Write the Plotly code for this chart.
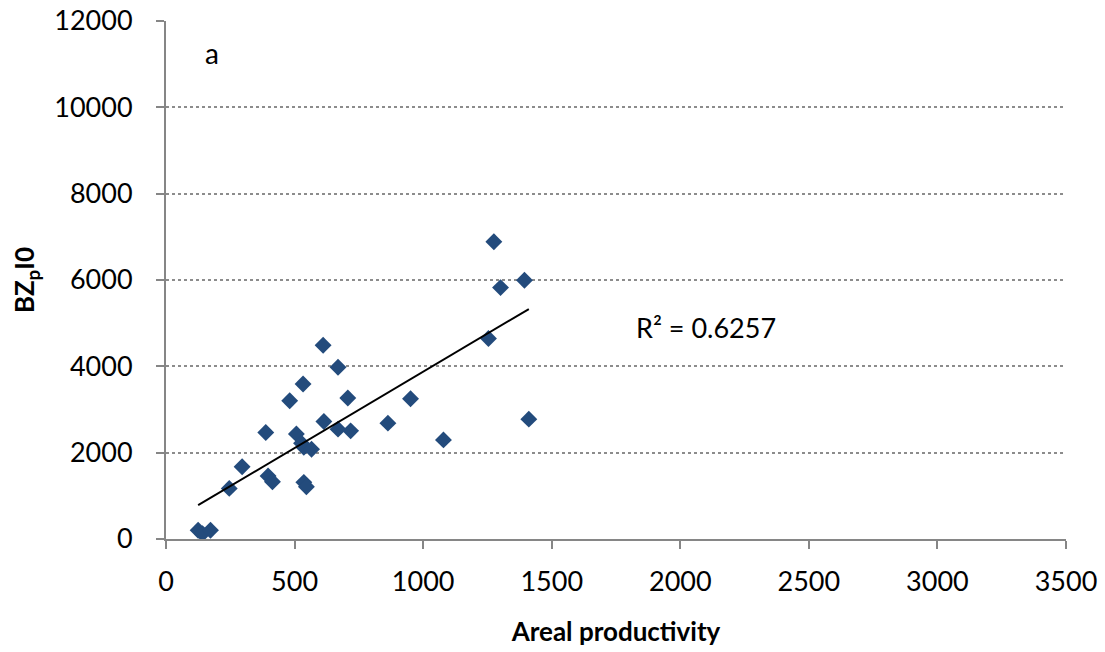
import numpy as np
import plotly.graph_objects as go

areal_productivity = [125, 142, 173, 246, 296, 388, 397, 414, 481, 507, 533, 527, 536, 566, 536,
                      546, 611, 614, 669, 669, 707, 718, 863, 951, 1079, 1254, 1275, 1301, 1394, 1411]
bzpi0 = [202, 125, 202, 1172, 1675, 2466, 1458, 1326, 3203, 2435, 3591, 2219, 2126, 2080, 1312,
         1210, 4490, 2722, 3978, 2545, 3266, 2505, 2684, 3250, 2296, 4645, 6885, 5824, 5994, 2777]

x_ticks = [0, 500, 1000, 1500, 2000, 2500, 3000, 3500]
y_ticks = [0, 2000, 4000, 6000, 8000, 10000, 12000]

x = np.array(areal_productivity, dtype=float)
y = np.array(bzpi0, dtype=float)
slope, intercept = np.polyfit(x, y, 1)
xl = np.array([x.min(), x.max()])
yl = slope * xl + intercept

font = "Lato, Open Sans, sans-serif"
axis_color = "#868686"

fig = go.Figure()
fig.add_trace(go.Scatter(x=areal_productivity, y=bzpi0, mode="markers",
                         marker=dict(symbol="diamond", size=13, color="#234B7C"),
                         showlegend=False))
fig.add_trace(go.Scatter(x=xl, y=yl, mode="lines", line=dict(color="black", width=2),
                         showlegend=False))

fig.add_annotation(x=2100, y=4900, text="R² = 0.6257", showarrow=False,
                   font=dict(family=font, size=27, color="black"))
fig.add_annotation(x=180, y=11250, text="a", showarrow=False,
                   font=dict(family=font, size=28, color="black"))

fig.update_layout(
    width=1105, height=652,
    margin=dict(l=166, r=39, t=21, b=113),
    paper_bgcolor="white", plot_bgcolor="white",
    font=dict(family=font, size=27, color="black"),
)
fig.update_xaxes(range=[0, 3500], tickvals=x_ticks, ticktext=[str(v) for v in x_ticks],
                 showgrid=False, automargin=False,
                 showline=True, linecolor=axis_color, linewidth=2,
                 ticks="outside", tickcolor=axis_color, ticklen=8, tickwidth=2,
                 ticklabelstandoff=10, zeroline=False,
                 tickfont=dict(family=font, size=27),
                 title=dict(text="<b>Areal productivity</b>", font=dict(family=font, size=26), standoff=26))
fig.update_yaxes(range=[0, 12000], tickvals=y_ticks, ticktext=[str(v) for v in y_ticks],
                 showgrid=True, automargin=False,
                 gridcolor="#8c8c8c", griddash="dot", gridwidth=1.5,
                 showline=True, linecolor=axis_color, linewidth=2,
                 ticks="outside", tickcolor=axis_color, ticklen=8, tickwidth=2,
                 ticklabelstandoff=18, zeroline=False,
                 tickfont=dict(family=font, size=27),
                 title=dict(text="<b>BZ<sub>p</sub>I0</b>", font=dict(family=font, size=26), standoff=12))

fig.write_html("out.html", config={"displayModeBar": False},
               post_script="document.body.style.margin='0';")
